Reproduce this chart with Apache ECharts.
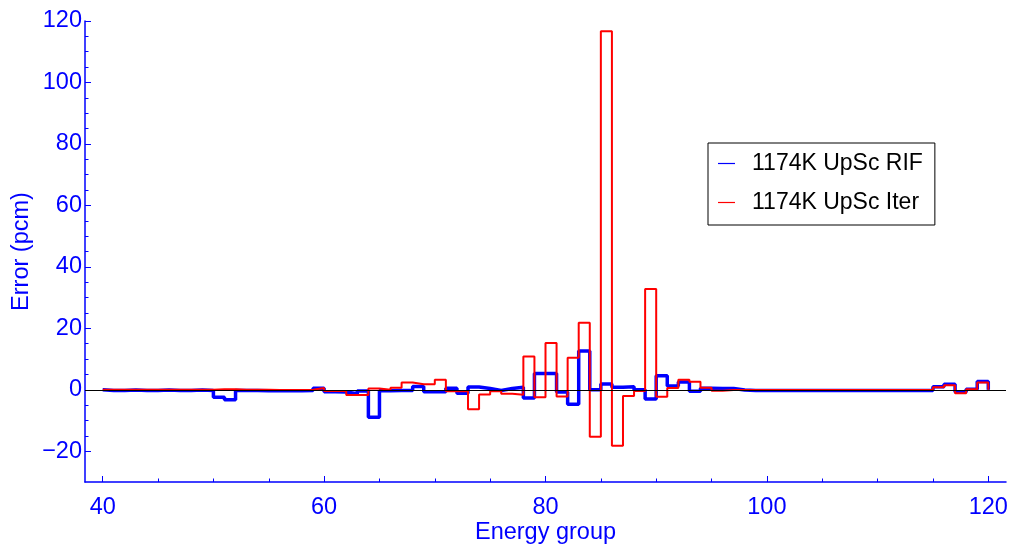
<!DOCTYPE html>
<html><head><meta charset="utf-8">
<script src="https://cdn.jsdelivr.net/npm/echarts@6/dist/echarts.min.js"></script>
<style>html,body{margin:0;padding:0;background:#fff}#c{width:1010px;height:544px}</style>
</head><body><div id="c"></div><script>
// Energy-group bin edges (groups 40..119, last edge 120)
const groupEdges = [40,41,42,43,44,45,46,47,48,49,50,51,52,53,54,55,56,57,58,59,
  60,61,62,63,64,65,66,67,68,69,70,71,72,73,74,75,76,77,78,79,
  80,81,82,83,84,85,86,87,88,89,90,91,92,93,94,95,96,97,98,99,
  100,101,102,103,104,105,106,107,108,109,110,111,112,113,114,115,116,117,118,119,120];
// Error (pcm) per group, 1174K UpSc RIF
const rifErr = [-0.2,-0.2,-0.1,-0.2,-0.2,-0.1,-0.2,-0.2,-0.1,-0.2,
  -2.4,-3.2,-0.2,-0.2,-0.3,-0.3,-0.3,-0.3,-0.2,0.5,
  -0.6,-0.7,-1.3,-0.4,-8.9,-0.3,-0.2,-0.2,1.1,-0.6,
  -0.6,0.5,-1.1,0.9,0.4,-0.2,0.4,0.8,-2.7,5.3,
  5.3,-0.7,-4.7,12.6,0.0,1.9,0.8,1.0,0.0,-3.0,
  4.6,1.2,2.5,-0.5,0.5,0.4,0.4,-0.1,-0.2,-0.2,
  -0.2,-0.2,-0.2,-0.2,-0.2,-0.2,-0.2,-0.2,-0.2,-0.2,
  -0.2,-0.2,-0.2,-0.2,-0.2,1.0,1.8,-0.7,0.2,2.7];
// Error (pcm) per group, 1174K UpSc Iter
const iterErr = [0.0,0.0,0.0,0.0,0.0,0.0,0.0,0.0,0.0,0.0,
  0.2,0.2,0.0,0.0,0.0,-0.1,-0.1,-0.1,0.0,0.6,
  -0.4,-0.4,-1.7,-1.7,0.4,0.0,0.7,2.4,1.8,1.8,
  3.3,-0.5,-0.5,-6.3,-1.5,-0.5,-1.3,-1.6,10.8,-2.4,
  15.2,-2.2,10.4,21.8,-15.3,116.7,-18.2,-2.0,-0.4,32.8,
  -2.3,0.6,3.3,2.6,0.7,-0.3,-0.1,-0.1,-0.1,-0.1,
  -0.1,-0.1,-0.1,-0.1,-0.1,-0.1,-0.1,-0.1,-0.1,-0.1,
  -0.1,-0.1,-0.1,-0.1,-0.1,0.8,1.5,-1.1,0.2,2.4];
const seriesNames = ['1174K UpSc RIF','1174K UpSc Iter'];
const xRange = [38.4, 121.6];
const yRange = [-30, 120];
const xTickRange = [40, 120];
const yTickRange = [-20, 120];
const tickStep = 20;

const W = 1010, H = 544;
const plot = {left: 85, right: 1006, top: 21, bottom: 482};
function px(x){ return plot.left + (x - xRange[0]) / (xRange[1] - xRange[0]) * (plot.right - plot.left); }
function py(y){ return plot.top + (yRange[1] - y) / (yRange[1] - yRange[0]) * (plot.bottom - plot.top); }

function stepData(vals){
  const d = [[groupEdges[0], 0]];
  vals.forEach((v, i) => d.push([groupEdges[i], v]));
  d.push([groupEdges[vals.length], 0]);
  return d;
}

const FONT = 'Liberation Sans, Arial, sans-serif';
const BLUE = '#0000ff';
const FS = 23.5;
const gB = {left: px(xTickRange[0]), right: W - px(xTickRange[1]), top: plot.top, bottom: H - py(yTickRange[0])};

const chart = echarts.init(document.getElementById('c'), null, {renderer: 'canvas'});
chart.setOption({
  animation: false,
  backgroundColor: '#fff',
  grid: [
    {left: plot.left, right: W - plot.right, top: plot.top, bottom: H - plot.bottom,
     containLabel: false, outerBoundsMode: 'none'},
    {left: gB.left, right: gB.right, top: gB.top, bottom: gB.bottom,
     containLabel: false, outerBoundsMode: 'none'}
  ],
  legend: {
    data: seriesNames, orient: 'vertical', left: 708, top: 143,
    padding: [9, 12, 11, 10], itemGap: 16, itemWidth: 17, itemHeight: 1.2, icon: 'rect',
    borderColor: '#000', borderWidth: 1, backgroundColor: '#fff', borderRadius: 0,
    textStyle: {fontFamily: FONT, fontSize: 23, color: '#000', lineHeight: 23, padding: [0,0,0,12]}
  },
  xAxis: [
    {gridIndex: 0, type: 'value', min: xRange[0], max: xRange[1],
     axisLine: {show: true, onZero: false, lineStyle: {color: BLUE, width: 1.5}},
     axisTick: {show: false}, axisLabel: {show: false}, splitLine: {show: false},
     name: 'Energy group', nameLocation: 'middle', nameGap: 39,
     nameTextStyle: {fontFamily: FONT, fontSize: FS, color: BLUE}},
    {gridIndex: 1, type: 'value', min: xTickRange[0], max: xTickRange[1], interval: tickStep,
     offset: plot.bottom - py(yTickRange[0]),
     axisLine: {show: false, onZero: false},
     axisTick: {show: true, inside: true, length: 6, lineStyle: {color: BLUE, width: 1}},
     minorTick: {show: true, splitNumber: 4, length: 3.5, lineStyle: {color: BLUE, width: 1}},
     axisLabel: {fontFamily: FONT, fontSize: FS, color: BLUE, margin: 14},
     splitLine: {show: false}}
  ],
  yAxis: [
    {gridIndex: 0, type: 'value', min: yRange[0], max: yRange[1],
     axisLine: {show: true, onZero: false, lineStyle: {color: BLUE, width: 1.5}},
     axisTick: {show: false}, axisLabel: {show: false}, splitLine: {show: false},
     name: 'Error (pcm)', nameLocation: 'middle', nameGap: 51, nameRotate: 90,
     nameTextStyle: {fontFamily: FONT, fontSize: FS, color: BLUE}},
    {gridIndex: 1, type: 'value', min: yTickRange[0], max: yTickRange[1], interval: tickStep,
     offset: px(xTickRange[0]) - plot.left,
     axisLine: {show: false, onZero: false},
     axisTick: {show: true, inside: true, length: 6, lineStyle: {color: BLUE, width: 1}},
     minorTick: {show: true, splitNumber: 4, length: 3.5, lineStyle: {color: BLUE, width: 1}},
     axisLabel: {fontFamily: FONT, fontSize: FS, color: BLUE, margin: 3,
       formatter: v => String(v).replace('-', '\u2212')},
     splitLine: {show: false}}
  ],
  series: [
    {name: seriesNames[0], type: 'line', step: 'end', xAxisIndex: 0, yAxisIndex: 0,
     data: stepData(rifErr), showSymbol: false, symbol: 'none', color: BLUE,
     lineStyle: {color: BLUE, width: 3.5}, z: 2, silent: true},
    {name: seriesNames[1], type: 'line', step: 'end', xAxisIndex: 0, yAxisIndex: 0,
     data: stepData(iterErr), showSymbol: false, symbol: 'none', color: '#ff0000',
     lineStyle: {color: '#ff0000', width: 2}, z: 3, silent: true,
     markLine: {silent: true, symbol: 'none', label: {show: false},
       lineStyle: {color: '#000', width: 1, type: 'solid'}, data: [{yAxis: 0}], z: 5}}
  ]
});
</script></body></html>
